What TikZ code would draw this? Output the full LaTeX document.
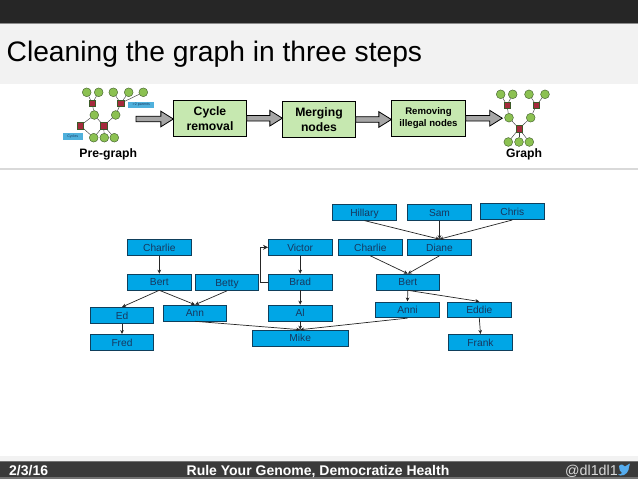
\documentclass[tikz,border=0pt]{standalone}
\usepackage{fontspec}
\setmainfont{Liberation Sans}
\usetikzlibrary{arrows.meta,calc}
\definecolor{topbar}{HTML}{262626}
\definecolor{titleband}{HTML}{F2F2F2}
\definecolor{footbar}{HTML}{3A3A3A}
\definecolor{boxblue}{HTML}{00A6E6}
\definecolor{boxedge}{HTML}{0F3F5C}
\definecolor{boxtext}{HTML}{17375E}
\definecolor{stepgreen}{HTML}{C6E8B0}
\definecolor{circgreen}{HTML}{8CC152}
\definecolor{circedge}{HTML}{3C5A28}
\definecolor{sqred}{HTML}{A52A3C}
\definecolor{arrowgray}{HTML}{A6A6A6}
\definecolor{tagblue}{HTML}{4FB0DC}
\definecolor{birdblue}{HTML}{55ACEE}
\newcommand{\blockarrow}[2]{%
  \draw[blockline] let \p1=(#1),\p2=(#2) in
    (\x1,\y1-2.8pt) -- (\x2-12.5pt,\y1-2.8pt) -- (\x2-12.5pt,\y1-7.8pt) -- (\x2,\y1)
    -- (\x2-12.5pt,\y1+7.8pt) -- (\x2-12.5pt,\y1+2.8pt) -- (\x1,\y1+2.8pt) -- cycle;}
\tikzset{
  x=1pt,y=-1pt,
  person/.style={draw=boxedge,line width=.8pt,fill=boxblue,text=boxtext,font=\fontsize{10.2}{12}\selectfont,inner sep=0pt,text height=7.4pt,text depth=0pt,minimum width=63.5pt,minimum height=15.8pt,anchor=center},
  wide/.style={person,minimum width=95.5pt},
  link/.style={draw=black!85,line width=.7pt,-{Stealth[length=4pt,width=3.6pt]}},
  stepbox/.style={draw=black,line width=.7pt,fill=stepgreen,text=black,font=\bfseries\fontsize{12.2}{15}\selectfont,align=center,inner sep=0pt,minimum width=72.6pt,minimum height=35.6pt},
  blockline/.style={draw=black,line width=.8pt,fill=arrowgray,line join=miter},
  gc/.style={circle,draw=circedge,line width=.4pt,fill=circgreen,inner sep=0pt,minimum size=8.8pt},
  rs/.style={draw=circedge,line width=.3pt,fill=sqred,inner sep=0pt,minimum size=6.6pt},
  ge/.style={draw=black!75,line width=.45pt},
  tag/.style={fill=tagblue,text=boxtext,font=\fontsize{3.6}{4}\selectfont,inner sep=0pt},
  captext/.style={font=\bfseries\fontsize{12.2}{14}\selectfont,text=black,inner sep=0pt}
}
\begin{document}
\begin{tikzpicture}
\useasboundingbox (0,0) rectangle (638,479);
\fill[white] (0,0) rectangle (638,479);
% bands
\fill[topbar] (0,0) rectangle (638,23);
\fill[black!45] (0,23) rectangle (638,24);
\fill[titleband] (0,24) rectangle (638,83.5);
\fill[black!15] (0,168) rectangle (638,170);
\fill[titleband] (0,455.7) rectangle (638,461);
\fill[footbar] (0,461) rectangle (638,477.3);
\fill[black!55] (0,477.3) rectangle (638,479);
\fill[black!55] (0,461) rectangle (638,462);
\node[anchor=west,inner sep=0pt,text=black,font=\fontsize{28.2}{30}\selectfont] (title) at (6.5,54) {Cleaning the graph in three steps};
\node[anchor=base west,inner sep=0pt,text=white,font=\bfseries\fontsize{14}{15}\selectfont] (date) at (9,475) {2/3/16};
\node[anchor=base,inner sep=0pt,text=white,font=\bfseries\fontsize{14}{15}\selectfont] (talk) at (318,475) {Rule Your Genome, Democratize Health};
\node[anchor=base east,inner sep=0pt,text=white!85!black,font=\fontsize{14.3}{15}\selectfont] (handle) at (618,475) {@dl1dl1};
\fill[birdblue] (619,466) .. controls (621,463.5) and (623.5,464.5) .. (625,466.5) .. controls (626.5,465.5) and (628,464.5) .. (630,463.5) .. controls (630,465) and (629.5,466) .. (629,467) .. controls (629,471) and (626,476) .. (620.5,475.5) .. controls (619.5,475.5) and (618.5,475) .. (618,474.5) .. controls (620,474.5) and (621,474) .. (622,473) .. controls (620,472) and (619,469) .. (619,466) -- cycle;
% process
\coordinate (flowstart) at (136,119);
\node[stepbox] (cycrem) at (210,118.2) {Cycle\\removal};
\node[stepbox] (merge) at (319,119.5) {Merging\\nodes};
\node[stepbox,font=\bfseries\fontsize{9.6}{11.8}\selectfont,minimum width=73.6pt] (illegal) at (428.5,118.2) {Removing\\illegal nodes};
\coordinate (flowend) at (502.3,118.4);
\blockarrow{flowstart}{cycrem.west}
\blockarrow{cycrem.east}{merge.west}
\blockarrow{merge.east}{illegal.west}
\blockarrow{illegal.east}{flowend}
% pre-graph icon
\node[gc] (a1) at (86.7,92.3) {};
\node[gc] (a2) at (98.7,92.3) {};
\node[gc] (a3) at (113.3,92.3) {};
\node[gc] (a4) at (128.7,92.3) {};
\node[gc] (a5) at (143.3,92.3) {};
\node[rs] (as1) at (92.3,103.3) {};
\node[rs] (as2) at (120.7,103.3) {};
\node[gc] (am1) at (94.3,115) {};
\node[gc] (am2) at (115.7,115) {};
\node[rs] (as3) at (80.3,125.7) {};
\node[rs] (as4) at (103.7,125.7) {};
\node[gc] (ab1) at (93.7,137.7) {};
\node[gc] (ab2) at (104.3,137.7) {};
\node[gc] (ab3) at (114.3,137.7) {};
\foreach \u/\v in {a1/as1,a2/as1,a3/as2,a4/as2,a5/as2,as1/am1,as2/am2,am1/as3,am1/as4,am2/as4,as3/ab1,as4/ab1,as4/ab2,as4/ab3}
  \draw[ge] (\u) -- (\v);
\node[tag,minimum width=26pt,minimum height=6pt] (twoparents) at (141.3,104.7) {>2 parents};
\node[tag,minimum width=20pt,minimum height=6.7pt] (cycles) at (72.7,136.7) {Cycles};
\node[captext] (pregraph) at (108.3,154) {Pre-graph};
% graph icon
\node[gc] (g1) at (500.7,94.3) {};
\node[gc] (g2) at (512.7,94.3) {};
\node[gc] (g3) at (529,94.3) {};
\node[gc] (g4) at (545,94.3) {};
\node[rs] (gs1) at (507,105.3) {};
\node[rs] (gs2) at (536.3,105.3) {};
\node[gc] (gm1) at (509,117.7) {};
\node[gc] (gm2) at (530.7,117.7) {};
\node[rs] (gs3) at (519,128.7) {};
\node[gc] (gb1) at (508.3,142) {};
\node[gc] (gb2) at (519,142) {};
\node[gc] (gb3) at (529.3,142) {};
\foreach \u/\v in {g1/gs1,g2/gs1,g3/gs2,g4/gs2,gs1/gm1,gs2/gm2,gm1/gs3,gm2/gs3,gs3/gb1,gs3/gb2,gs3/gb3}
  \draw[ge] (\u) -- (\v);
\node[captext] (graphcap) at (524,154) {Graph};
% people, left
\node[person] (charlieA) at (159.3,247.3) {Charlie};
\node[person] (bertA) at (159.3,282) {Bert};
\node[person] (betty) at (227,282.5) {Betty};
\node[person] (ed) at (122,315.3) {Ed};
\node[person] (fred) at (122,342.3) {Fred};
\node[person] (ann) at (195,313) {Ann};
\node[person] (victor) at (300.2,247.3) {Victor};
\node[person] (brad) at (300.2,282) {Brad};
\node[person] (al) at (300.2,313) {Al};
\node[wide] (mike) at (300.2,338) {Mike};
% people, right
\node[person] (hillary) at (364.5,212.3) {Hillary};
\node[person] (sam) at (439.5,212.3) {Sam};
\node[person] (chris) at (512.3,211.7) {Chris};
\node[person] (charlieB) at (370.3,247.5) {Charlie};
\node[person] (diane) at (439.5,247.5) {Diane};
\node[person] (bertB) at (407.8,282) {Bert};
\node[person] (anni) at (407.5,309.8) {Anni};
\node[person] (eddie) at (479.3,309.8) {Eddie};
\node[person] (frank) at (480.5,342.3) {Frank};
% links
\foreach \u/\v in {charlieA/bertA,bertA/ed,bertA/ann,betty/ann,ed/fred,victor/brad,brad/al,al/mike,ann/mike,anni/mike,hillary/diane,sam/diane,chris/diane,charlieB/bertB,diane/bertB,bertB/anni,bertB/eddie,eddie/frank}
  \draw[link] (\u.south) -- (\v.north);
\draw[link,-{Stealth[length=5pt,width=5pt]}] (brad.west) -- ++(-8,0) |- (victor.west);
\end{tikzpicture}
\end{document}
